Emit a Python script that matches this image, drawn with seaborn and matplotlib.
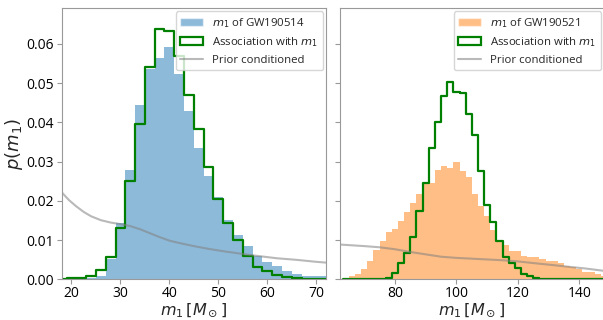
import numpy as np
import seaborn as sns
import matplotlib.pyplot as plt
from matplotlib.patches import Patch
from matplotlib.lines import Line2D

# GW190514 (left panel), bin centres of width-2 bins
m1_514 = [18, 20, 22, 24, 26, 28, 30, 32, 34, 36, 38, 40, 42, 44,
          46, 48, 50, 52, 54, 56, 58, 60, 62, 64, 66, 68, 70, 72]
post_514 = [0.0, 0.0, 0.0, 0.0003, 0.001, 0.0053, 0.0144, 0.0278, 0.0444, 0.0536,
            0.0564, 0.0591, 0.0522, 0.0428, 0.0335, 0.0263, 0.021, 0.0151, 0.0114,
            0.0086, 0.0059, 0.0045, 0.0034, 0.0022, 0.0014, 0.001, 0.001, 0.0009]
assoc_514 = [0.0002, 0.0003, 0.0005, 0.001, 0.0025, 0.0057, 0.013, 0.025, 0.0395,
             0.0541, 0.0639, 0.0632, 0.0568, 0.0469, 0.0382, 0.0286, 0.0206, 0.0144,
             0.0101, 0.006, 0.0032, 0.0021, 0.0011, 0.0007, 0.0005, 0.0002, 0.0002, 0.0002]
prior_514_x = [18, 19.5, 21, 22.5, 24, 26, 28, 30, 32, 34, 36, 38, 40, 42,
               45, 48, 51, 55, 58, 62, 66, 70, 72]
prior_514_y = [0.0222, 0.0202, 0.0186, 0.0172, 0.0161, 0.0151, 0.0145, 0.0141, 0.0136,
               0.0128, 0.0118, 0.0108, 0.0099, 0.0093, 0.0085, 0.0078, 0.0072, 0.0065,
               0.006, 0.0054, 0.005, 0.0045, 0.0043]

# GW190521 (right panel)
m1_521 = [64, 66, 68, 70, 72, 74, 76, 78, 80, 82, 84, 86, 88, 90, 92, 94, 96, 98,
          100, 102, 104, 106, 108, 110, 112, 114, 116, 118, 120, 122, 124, 126,
          128, 130, 132, 134, 136, 138, 140, 142, 144, 146, 148]
post_521 = [0.0002, 0.0008, 0.0015, 0.0026, 0.0047, 0.0074, 0.0099, 0.0122, 0.0128,
            0.0149, 0.0172, 0.0196, 0.0217, 0.0246, 0.0246, 0.0279, 0.0289, 0.0285,
            0.03, 0.0277, 0.0261, 0.0218, 0.0188, 0.0162, 0.0127, 0.0099, 0.0088,
            0.0072, 0.0072, 0.0059, 0.0057, 0.0057, 0.0053, 0.0047, 0.0047, 0.0041,
            0.0034, 0.0031, 0.0026, 0.002, 0.0018, 0.0014, 0.0009]
assoc_521 = [0.0001, 0.0001, 0.0001, 0.0001, 0.0001, 0.0001, 0.0002, 0.0005, 0.0017,
             0.0042, 0.0067, 0.0108, 0.0175, 0.0246, 0.0334, 0.0402, 0.0468, 0.0503,
             0.0478, 0.0474, 0.0422, 0.0367, 0.0277, 0.0189, 0.0146, 0.0099, 0.0057,
             0.0043, 0.0028, 0.0015, 0.0009, 0.0004, 0.0002, 0.0002, 0.0001, 0.0001,
             0.0001, 0.0001, 0.0001, 0.0001, 0.0001, 0.0001, 0.0001]
prior_521_x = [62, 66, 70, 75, 80, 85, 90, 95, 100, 105, 110, 115, 120, 126,
               131, 137, 142, 148]
prior_521_y = [0.0089, 0.0087, 0.0085, 0.0082, 0.0077, 0.007, 0.0064, 0.0058, 0.0055,
               0.0053, 0.0051, 0.0049, 0.0046, 0.0041, 0.0037, 0.0032, 0.0028, 0.0022]

sns.set_style("ticks")
plt.rcParams['font.family'] = ['Open Sans', 'DejaVu Sans']
plt.rcParams['mathtext.fontset'] = 'dejavusans'
plt.rcParams['axes.edgecolor'] = '0.6'
plt.rcParams['xtick.color'] = '0.6'
plt.rcParams['ytick.color'] = '0.6'
plt.rcParams['xtick.labelcolor'] = 'black'
plt.rcParams['ytick.labelcolor'] = 'black'
plt.rcParams['xtick.labelsize'] = 10
plt.rcParams['ytick.labelsize'] = 10
plt.rcParams['xtick.major.pad'] = 1.5
plt.rcParams['ytick.major.pad'] = 2

fig = plt.figure(figsize=(6.03, 3.2), dpi=100)
ax1 = fig.add_axes([0.1023, 0.1266, 0.4383, 0.8469])
ax2 = fig.add_axes([0.5633, 0.1266, 0.4383, 0.8469], sharey=ax1)

panels = [
    (ax1, m1_514, post_514, assoc_514, prior_514_x, prior_514_y, '#1f77b4', 'GW190514'),
    (ax2, m1_521, post_521, assoc_521, prior_521_x, prior_521_y, '#ff7f0e', 'GW190521'),
]

for ax, m, post, assoc, px, py, col, name in panels:
    brange = (m[0] - 1, m[-1] + 1)
    sns.histplot(x=m, weights=post, binwidth=2, binrange=brange, stat='count',
                 color=col, alpha=0.5, linewidth=0, ax=ax)
    sns.histplot(x=m, weights=assoc, binwidth=2, binrange=brange, stat='count',
                 element='step', fill=False, color='green', linewidth=1.6, ax=ax)
    sns.lineplot(x=px, y=py, color='gray', alpha=0.55, linewidth=1.5, ax=ax)

    handles = [
        Patch(facecolor=col, alpha=0.5, label=f'$m_1$ of {name}'),
        Patch(facecolor='none', edgecolor='green', linewidth=1.6, label='Association with $m_1$'),
        Line2D([], [], color='gray', alpha=0.55, linewidth=1.5, label='Prior conditioned'),
    ]
    ax.legend(handles=handles, loc='upper right', fontsize=8.2, borderaxespad=0.25)
    ax.set_xlabel(r'$m_1\,[M_\odot]$', fontsize=11.5, labelpad=-0.5)
    ax.set_ylabel('')

ax1.set_xlim(18, 72)
ax1.set_xticks([20, 30, 40, 50, 60, 70])
ax2.set_xlim(62, 148)
ax2.set_xticks([80, 100, 120, 140])
ax1.set_ylim(0, 0.069)
ax1.set_yticks([0.0, 0.01, 0.02, 0.03, 0.04, 0.05, 0.06])
ax1.set_ylabel(r'$p(m_1)$', fontsize=13, labelpad=1)
ax2.tick_params(labelleft=False)

fig.savefig('out.png', dpi=100)
